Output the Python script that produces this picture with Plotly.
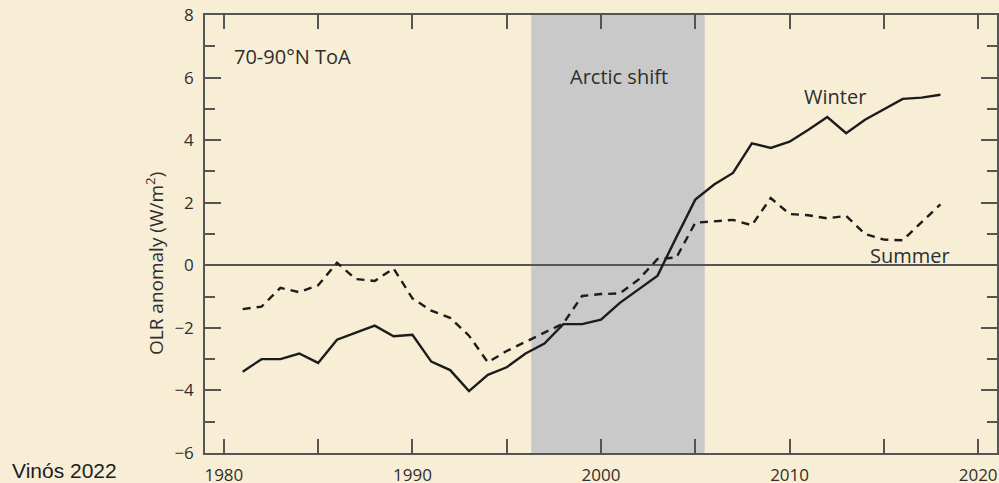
import plotly.graph_objects as go

# OLR anomaly, 70-90N top of atmosphere (W/m2)
years = list(range(1981, 2019))
winter = [-3.4, -3.0, -3.0, -2.82, -3.12, -2.38, -2.15, -1.93, -2.27, -2.22,
          -3.08, -3.35, -4.02, -3.5, -3.26, -2.82, -2.5, -1.88, -1.88, -1.74,
          -1.2, -0.76, -0.33, 0.9, 2.1, 2.58, 2.95, 3.9, 3.75, 3.95,
          4.33, 4.74, 4.22, 4.65, 4.98, 5.32, 5.36, 5.45]
summer = [-1.4, -1.32, -0.72, -0.86, -0.64, 0.08, -0.44, -0.5, -0.1, -1.06,
          -1.45, -1.68, -2.25, -3.1, -2.74, -2.45, -2.14, -1.86, -0.98, -0.92,
          -0.9, -0.45, 0.2, 0.25, 1.36, 1.4, 1.45, 1.28, 2.15, 1.64,
          1.6, 1.5, 1.58, 1.0, 0.82, 0.8, 1.36, 1.95]
shift_years = [1996.3, 2005.5]

ink = "#1c1c1c"
axis_col = "#555555"
txt = "#2e2e2e"
bg = "#f8eed6"
font = "Open Sans"

fig = go.Figure()
fig.add_vrect(x0=shift_years[0], x1=shift_years[1], fillcolor="#c9c9c9",
              line_width=0, layer="below")
fig.add_trace(go.Scatter(x=years, y=winter, mode="lines",
                         line=dict(color=ink, width=2.4)))
fig.add_trace(go.Scatter(x=years, y=summer, mode="lines",
                         line=dict(color=ink, width=2.4, dash="8px,6px")))

labels = [("70-90°N ToA", 1983.64, 6.68),
          ("Arctic shift", 2000.97, 6.04),
          ("Winter", 2012.4, 5.4),
          ("Summer", 2016.4, 0.3)]
for t, x, y in labels:
    fig.add_annotation(text=t, x=x, y=y, xref="x", yref="y", showarrow=False,
                       font=dict(family=font, size=20, color=txt))

# y title and credit placed in paper coords (left of the plot area)
fig.add_annotation(text="OLR anomaly (W/m<sup>2</sup>)", xref="paper", yref="paper",
                   x=-0.0631, y=0.4315, xanchor="center", yanchor="middle",
                   textangle=-90, showarrow=False,
                   font=dict(family=font, size=19, color=txt))
fig.add_annotation(text="Vinós 2022", xref="paper", yref="paper",
                   x=-0.246, y=-0.041, xanchor="left", yanchor="middle",
                   showarrow=False,
                   font=dict(family="Liberation Sans", size=21, color="#1c1c26"))

fig.update_xaxes(range=[1979, 2021], tickvals=[1980, 1990, 2000, 2010, 2020],
                 automargin=False,
                 showgrid=False, zeroline=False, showline=True, linecolor=axis_col,
                 linewidth=1.5, mirror="ticks", ticks="inside", ticklen=14,
                 tickcolor=axis_col, tickwidth=1.5, ticklabelstandoff=6,
                 minor=dict(dtick=5, tick0=1980, ticks="inside", ticklen=14,
                            tickcolor=axis_col, tickwidth=1.5),
                 tickfont=dict(family=font, size=17, color=txt))
fig.update_yaxes(range=[-6, 8], dtick=2, showgrid=False, automargin=False,
                 zeroline=True, zerolinecolor=axis_col, zerolinewidth=1.5,
                 showline=True, linecolor=axis_col, linewidth=1.5, mirror="ticks",
                 ticks="inside", ticklen=16, tickcolor=axis_col, tickwidth=1.5,
                 ticklabelstandoff=6,
                 minor=dict(dtick=1, ticks="inside", ticklen=10,
                            tickcolor=axis_col, tickwidth=1.5),
                 tickfont=dict(family=font, size=17, color=txt))

fig.update_layout(width=999, height=483, showlegend=False,
                  margin=dict(l=205, r=2, t=15, b=30),
                  paper_bgcolor=bg, plot_bgcolor=bg)

fig.write_html("out.html", config={"displayModeBar": False},
               post_script="document.body.style.margin='0';"
                           "document.body.style.background='%s';" % bg)
